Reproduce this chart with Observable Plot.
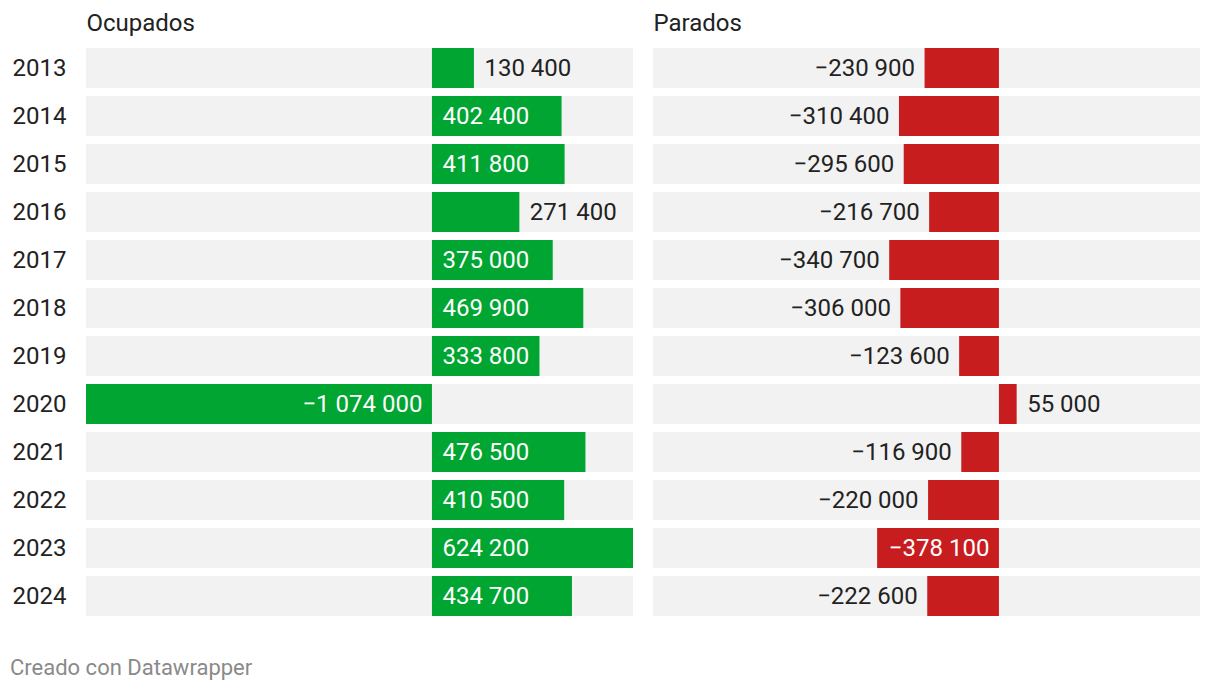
<!DOCTYPE html>
<html>
<head>
<meta charset="utf-8">
<script src="https://cdn.jsdelivr.net/npm/d3@7"></script>
<script src="https://cdn.jsdelivr.net/npm/@observablehq/plot@0.6"></script>
<style>
  body { margin: 0; background: #fff; font-family: Roboto, sans-serif; }
  #caption { margin: 26px 0 0 10px; font-size: 22px; line-height: 24px; color: #8a8a8a; }
</style>
</head>
<body>
<div id="chart"></div>
<div id="caption">Creado con Datawrapper</div>
<script>
const years = [2013, 2014, 2015, 2016, 2017, 2018, 2019, 2020, 2021, 2022, 2023, 2024];
const ocupados = [130400, 402400, 411800, 271400, 375000, 469900, 333800, -1074000, 476500, 410500, 624200, 434700];
const parados = [-230900, -310400, -295600, -216700, -340700, -306000, -123600, 55000, -116900, -220000, -378100, -222600];
const panels = ["Ocupados", "Parados"];
const panelColors = ["#00a532", "#c81d1f"];

const W = 1220, H = 630, mL = 86, mR = 20, gap = 20;
const facetW = (W - mL - mR - gap) / 2;
const step = facetW + gap;

const rows = [];
years.forEach((y, i) => {
  rows.push({panel: panels[0], year: y, value: ocupados[i]});
  rows.push({panel: panels[1], year: y, value: parados[i]});
});
const xMin = d3.min(rows, d => d.value), xMax = d3.max(rows, d => d.value);
const pxPerUnit = facetW / (xMax - xMin);

const locale = d3.formatLocale({decimal: ",", thousands: " ", grouping: [3], currency: ["", " €"], minus: "\u2212"});
const fmt = locale.format(",d");

const ctx = document.createElement("canvas").getContext("2d");
ctx.font = "24px Roboto";
rows.forEach(d => {
  d.label = fmt(d.value);
  const lw = ctx.measureText(d.label).width;
  d.inside = Math.abs(d.value) * pxPerUnit >= lw + 14;
});

const txt = {fontSize: 24, text: "label"};
const chart = Plot.plot({
  width: W, height: H,
  marginLeft: mL, marginRight: mR, marginTop: 48, marginBottom: 14,
  style: {fontFamily: "Roboto, sans-serif", fontSize: "24px", background: "#fff"},
  fx: {domain: panels, paddingInner: gap / step, paddingOuter: 0, axis: null, label: null},
  y: {type: "band", domain: years, paddingInner: 1 / 6, paddingOuter: 0, axis: null},
  x: {domain: [xMin, xMax], axis: null},
  marks: [
    Plot.barX(rows, {fx: "panel", y: "year", x1: () => xMin, x2: () => xMax, fill: "#f2f2f2"}),
    Plot.barX(rows.filter(d => d.panel === panels[0]), {fx: "panel", y: "year", x1: 0, x2: "value", fill: panelColors[0]}),
    Plot.barX(rows.filter(d => d.panel === panels[1]), {fx: "panel", y: "year", x1: 0, x2: "value", fill: panelColors[1]}),
    // positive, inside
    Plot.text(rows.filter(d => d.value >= 0 && d.inside), {...txt, fx: "panel", y: "year", x: () => 0, dx: 10, textAnchor: "start", fill: "#fff"}),
    // positive, outside
    Plot.text(rows.filter(d => d.value >= 0 && !d.inside), {...txt, fx: "panel", y: "year", x: "value", dx: 10, textAnchor: "start", fill: "#222"}),
    // negative, inside
    Plot.text(rows.filter(d => d.value < 0 && d.inside), {...txt, fx: "panel", y: "year", x: () => 0, dx: -10, textAnchor: "end", fill: "#fff"}),
    // negative, outside
    Plot.text(rows.filter(d => d.value < 0 && !d.inside), {...txt, fx: "panel", y: "year", x: "value", dx: -10, textAnchor: "end", fill: "#222"}),
    // year labels
    Plot.text(years, {fx: () => panels[0], y: d => d, text: d => String(d), frameAnchor: "left", dx: -74, textAnchor: "start", fontSize: 24, fill: "#222"}),
    // panel headers
    Plot.text(panels, {fx: d => d, text: d => d, frameAnchor: "top-left", dy: -25, textAnchor: "start", lineAnchor: "middle", fontSize: 24, fill: "#222"})
  ]
});
document.getElementById("chart").appendChild(chart);
</script>
</body>
</html>
